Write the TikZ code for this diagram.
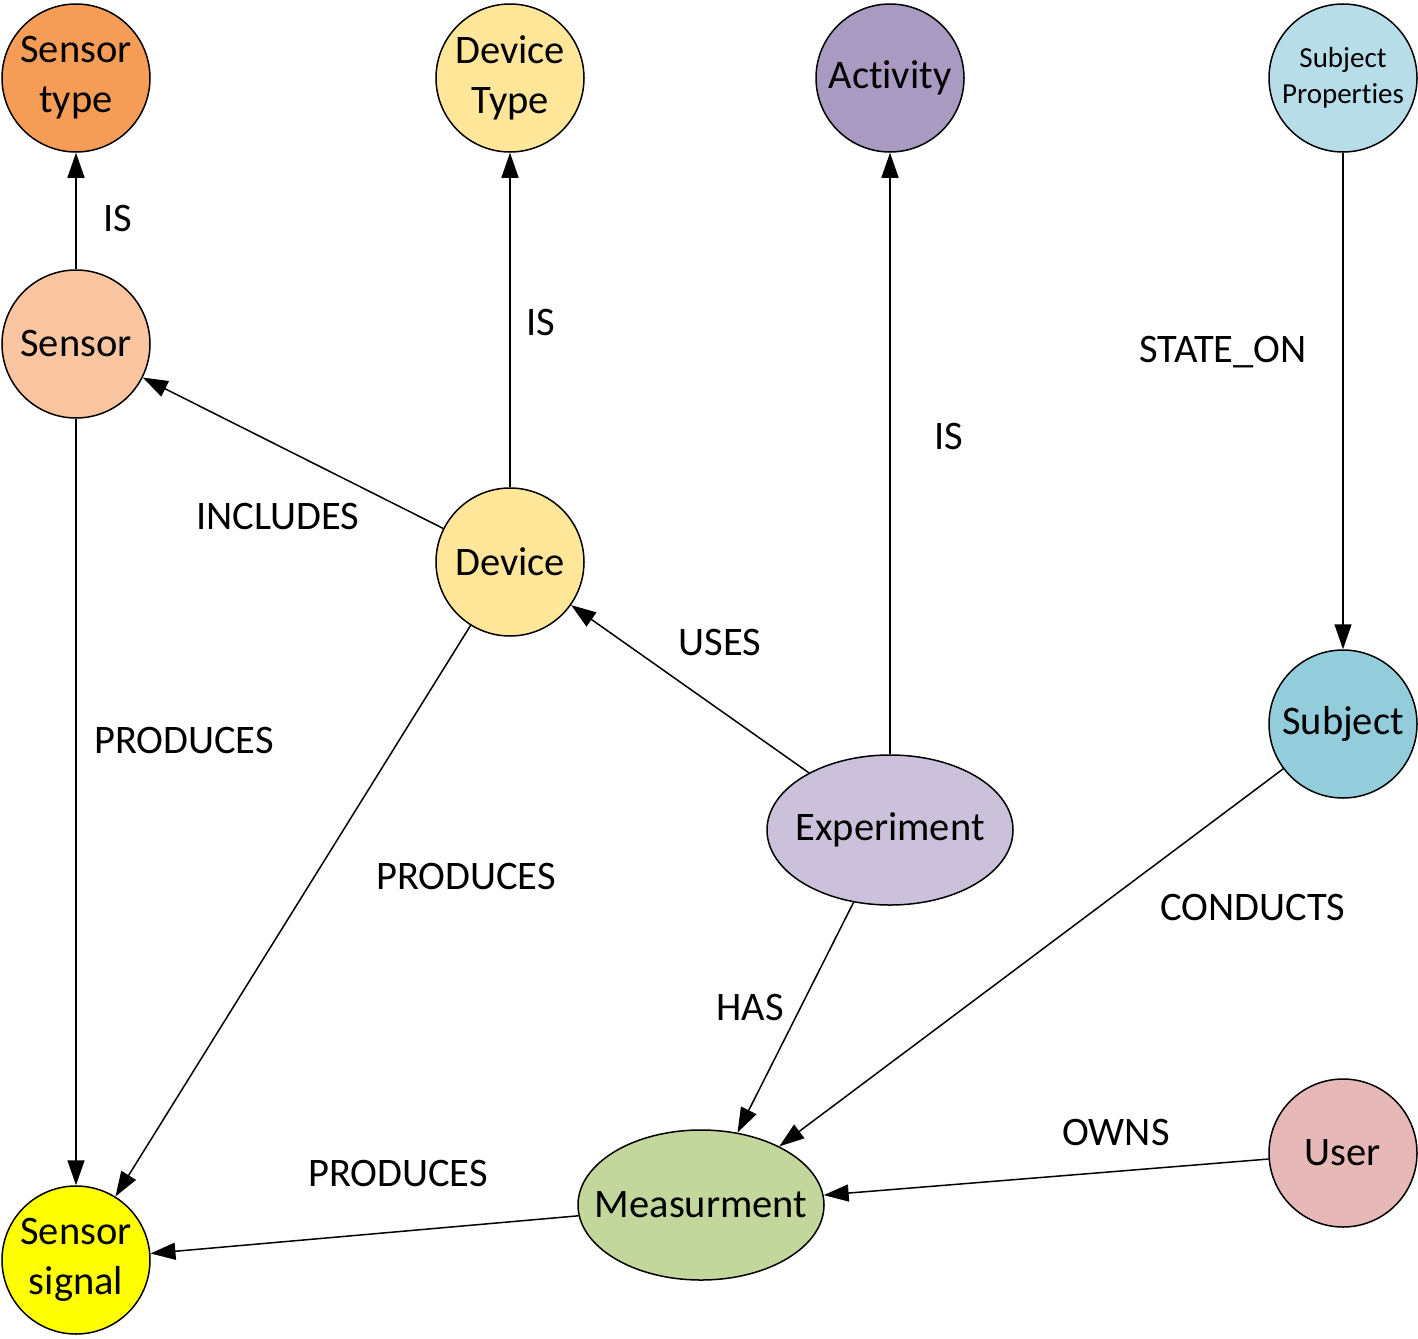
\documentclass[tikz,border=0pt]{standalone}
\usepackage{fontspec}
\setmainfont[Ligatures=NoCommon]{Carlito}
\usetikzlibrary{shapes.geometric,arrows.meta}
\definecolor{cSensorType}{HTML}{F59D56}
\definecolor{cDevType}{HTML}{FFE699}
\definecolor{cActivity}{HTML}{A99AC1}
\definecolor{cSubjProp}{HTML}{B7DDE8}
\definecolor{cSensor}{HTML}{F8C5A0}
\definecolor{cDevice}{HTML}{FFE699}
\definecolor{cSubject}{HTML}{93CDDC}
\definecolor{cExperiment}{HTML}{CCC1DA}
\definecolor{cMeas}{HTML}{C3D69B}
\definecolor{cUser}{HTML}{E6B8B7}
\definecolor{cSignal}{HTML}{FFFF00}
\tikzset{
  circ/.style={circle, draw=black, line width=1.5pt, minimum size=148pt, inner sep=0pt, align=center,
    font=\fontsize{40.5}{50}\selectfont},
  ell/.style={ellipse, draw=black, line width=1.5pt, minimum width=246pt, minimum height=150pt, inner sep=0pt,
    font=\fontsize{40.5}{50}\selectfont},
  lbl/.style={font=\fontsize{40.5}{46}\selectfont, inner sep=0pt},
  conn/.style={line width=1.5pt, -{Triangle[length=25pt,width=17pt]}}
}
\begin{document}
\begin{tikzpicture}[x=1pt,y=-1pt]
\useasboundingbox (0,0) rectangle (1418,1338);
% nodes
\node[circ, fill=cSensorType] (stype) at (76,78) {Sensor\\type};
\node[circ, fill=cDevType] (dtype) at (510,78) {Device\\Type};
\node[circ, fill=cActivity] (activity) at (890,78) {Activity};
\node[circ, fill=cSubjProp, font=\fontsize{29}{36}\selectfont] (sprop) at (1343,78) {Subject\\Properties};
\node[circ, fill=cSensor] (sensor) at (76,344) {Sensor};
\node[circ, fill=cDevice] (device) at (510,562) {Device};
\node[circ, fill=cSubject] (subject) at (1343,724) {Subject};
\node[ell, fill=cExperiment] (exp) at (890,830) {\makebox[0pt]{Experiment}};
\node[ell, fill=cMeas] (meas) at (701,1205) {\makebox[0pt]{Measurment}};
\node[circ, fill=cUser] (user) at (1343,1153) {User};
\node[circ, fill=cSignal] (signal) at (76,1260) {Sensor\\signal};
% connectors
\draw[conn] (sensor) -- (stype);
\draw[conn] (device) -- (dtype);
\draw[conn] (device) -- (sensor);
\draw[conn] (exp) -- (device);
\draw[conn] (exp) -- (activity);
\draw[conn] (sprop) -- (subject);
\draw[conn] (sensor) -- (signal);
\draw[conn] (device) -- (signal);
\draw[conn] (exp) -- (meas);
\draw[conn] (subject) -- (meas);
\draw[conn] (user) -- (meas);
\draw[conn] (meas) -- (signal);
% labels
\node[lbl] (l1) at (118,218) {IS};
\node[lbl] (l2) at (541,322) {IS};
\node[lbl] (l3) at (278,517) {INCLUDES};
\node[lbl] (l4) at (720,642) {USES};
\node[lbl] (l5) at (949,436) {IS};
\node[lbl] (l6) at (1223,352) {STATE\_ON};
\node[lbl] (l7) at (184,740) {PRODUCES};
\node[lbl] (l8) at (466,876) {PRODUCES};
\node[lbl] (l9) at (750,1007) {HAS};
\node[lbl] (l10) at (1253,907) {CONDUCTS};
\node[lbl] (l11) at (1116,1132) {OWNS};
\node[lbl] (l12) at (398,1173) {PRODUCES};
\end{tikzpicture}
\end{document}
